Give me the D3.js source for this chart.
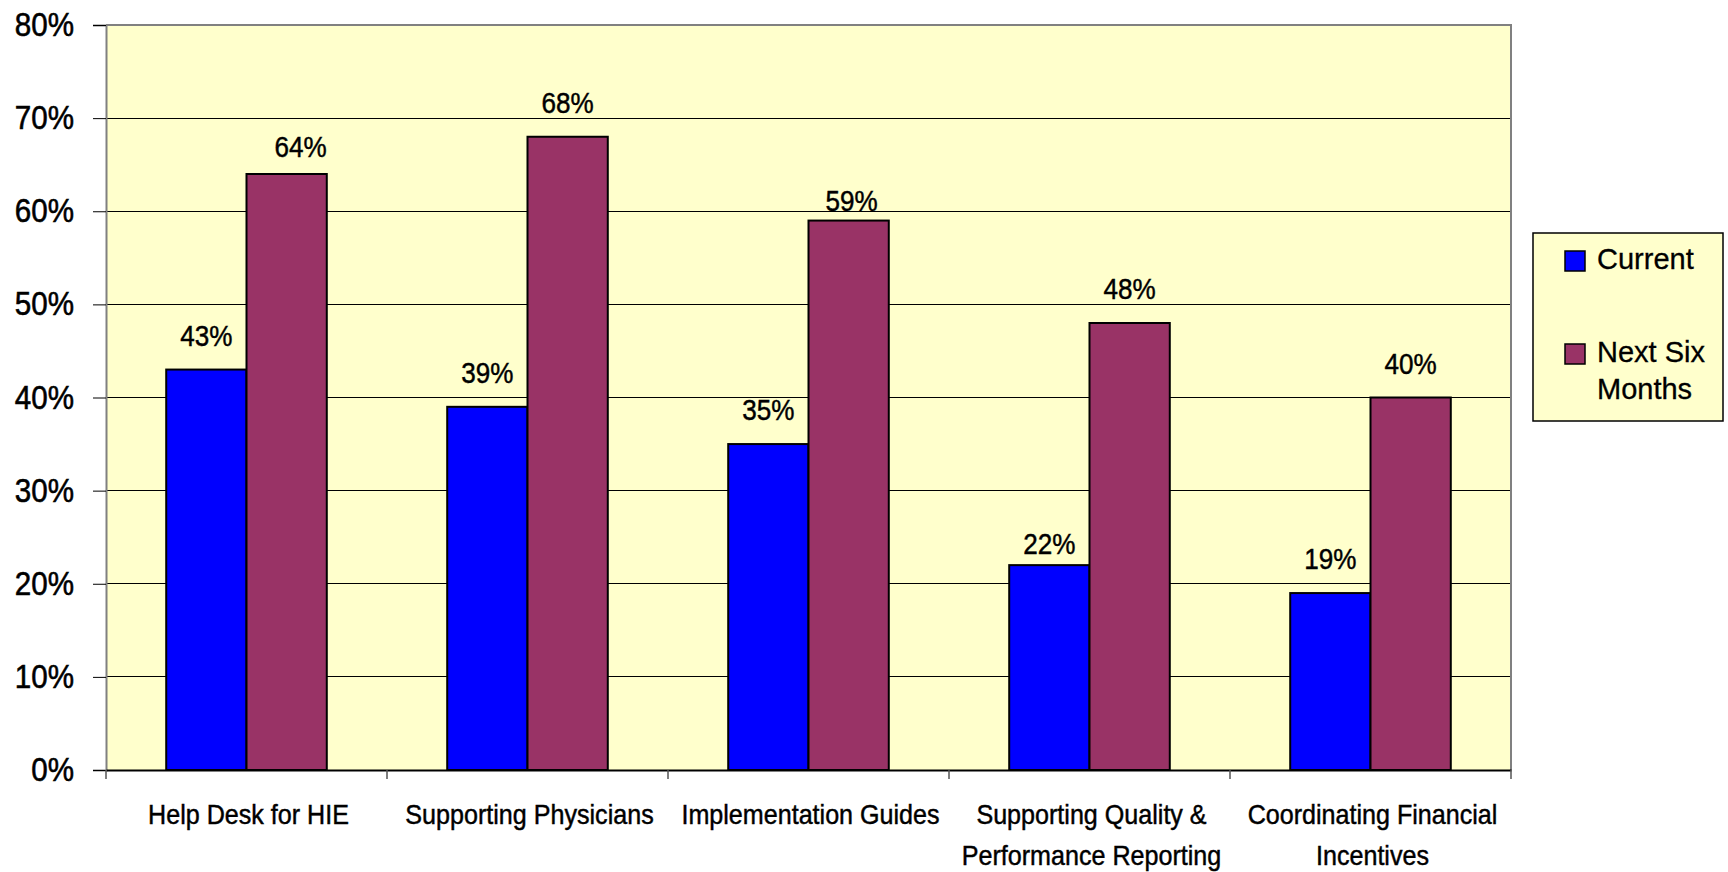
<!DOCTYPE html>
<html><head><meta charset="utf-8">
<script src="https://cdn.jsdelivr.net/npm/d3@7"></script>
<style>
html,body{margin:0;padding:0;background:#fff;}
svg{display:block;font-family:"Liberation Sans",Arial,sans-serif;}
</style></head>
<body>
<svg id="chart" width="1728" height="872"></svg>
<script>
const categories = ["Help Desk for HIE","Supporting Physicians","Implementation Guides","Supporting Quality &\nPerformance Reporting","Coordinating Financial\nIncentives"];
const seriesNames = ["Current","Next Six Months"];
const currentValues = [43,39,35,22,19];
const nextSixValues = [64,68,59,48,40];
const yTicks = [0,10,20,30,40,50,60,70,80];
const colors = ["#0000FF","#993366"];

const svg = d3.select("#chart");
const L=106, R=1511, T=25, B=770;

const x0 = d3.scaleBand().domain(categories).range([L,R]).padding(0);
const x1 = d3.scaleBand().domain(seriesNames).range([0,x0.bandwidth()]).paddingInner(0).paddingOuter(0.75);
const y = d3.scaleLinear().domain([0,80]).range([B,T]);

function sText(g, x, yy, str, size, sx, anchor, sw){
  return g.append("text").attr("transform",`translate(${x},${yy}) scale(${sx},1)`)
    .attr("text-anchor",anchor).attr("font-size",size).attr("fill","#000")
    .attr("stroke","#000").attr("stroke-width",sw===undefined?0.45:sw).text(str);
}

// plot background
svg.append("rect").attr("x",L).attr("y",T).attr("width",R-L).attr("height",B-T).attr("fill","#FFFFCC");

// gridlines
svg.append("g").selectAll("line").data(yTicks.filter(d=>d>0 && d<80)).join("line")
  .attr("x1",L).attr("x2",R).attr("y1",d=>y(d)).attr("y2",d=>y(d))
  .attr("stroke","#000").attr("stroke-width",1).attr("shape-rendering","crispEdges");

// plot border top/right
svg.append("path").attr("d",`M${L},${T}H${R}V${B}`).attr("fill","none").attr("stroke","#808080").attr("stroke-width",2);

// y axis
const yAxis = d3.axisLeft(y).tickValues(yTicks).tickFormat("").tickSize(13);
const gy = svg.append("g").attr("transform",`translate(${L},0)`).call(yAxis);
gy.select(".domain").attr("stroke","#808080").attr("stroke-width",2);
gy.selectAll(".tick line").attr("stroke","#000");
const gyl = svg.append("g");
yTicks.forEach(t=>sText(gyl, 74, y(t)+11, t+"%", 34, 0.87, "end", 0.6));

// bars
const data = categories.map((c,i)=>({cat:c, vals:[currentValues[i],nextSixValues[i]]}));
const groups = svg.append("g").selectAll("g").data(data).join("g")
  .attr("transform",d=>`translate(${x0(d.cat)},0)`);
groups.selectAll("rect").data(d=>d.vals.map((v,j)=>({s:seriesNames[j],v,j}))).join("rect")
  .attr("x",d=>x1(d.s)).attr("width",x1.bandwidth())
  .attr("y",d=>y(d.v)).attr("height",d=>y(0)-y(d.v))
  .attr("fill",d=>colors[d.j]).attr("stroke","#000").attr("stroke-width",2);

// data labels (a few were moved by hand in the original)
const labelGap = 24;
const labelAdjust = {"0-1":{dx:14,gap:17},"2-1":{dx:3,gap:10},"3-0":{dx:0,gap:11}};
groups.each(function(d,i){
  const g = d3.select(this);
  d.vals.forEach((v,j)=>{
    const a = labelAdjust[i+"-"+j] || {dx:0,gap:labelGap};
    sText(g, x1(seriesNames[j])+x1.bandwidth()/2+a.dx, y(v)-a.gap, v+"%", 29, 0.9, "middle");
  });
});

// x axis
const gx = svg.append("g").attr("transform",`translate(0,${B})`).call(d3.axisBottom(x0).tickSize(0).tickFormat(""));
gx.select(".domain").attr("stroke","#000").attr("stroke-width",2);
const bounds = categories.map(c=>x0(c)).concat([R]);
svg.append("g").selectAll("line").data(bounds).join("line")
  .attr("x1",d=>d).attr("x2",d=>d).attr("y1",B).attr("y2",B+9)
  .attr("stroke","#555").attr("stroke-width",1.5);
// category labels
const gcl = svg.append("g");
categories.forEach(c=>{
  c.split("\n").forEach((l,k)=>sText(gcl, x0(c)+x0.bandwidth()/2+2, 824+k*41, l, 27, 0.93, "middle"));
});

// legend
const lg = svg.append("g");
lg.append("rect").attr("x",1533).attr("y",233).attr("width",190).attr("height",188)
  .attr("fill","#FFFFCC").attr("stroke","#000").attr("stroke-width",1.5);
const legendItems = [{lines:["Current"],y:251},{lines:["Next Six","Months"],y:344}];
legendItems.forEach((it,k)=>{
  lg.append("rect").attr("x",1565).attr("y",it.y).attr("width",20).attr("height",20)
    .attr("fill",colors[k]).attr("stroke","#000").attr("stroke-width",1.5);
  it.lines.forEach((l,m)=>sText(lg, 1597, it.y+18+m*37, l, 29, 1, "start", 0.3));
});
</script>
</body></html>
